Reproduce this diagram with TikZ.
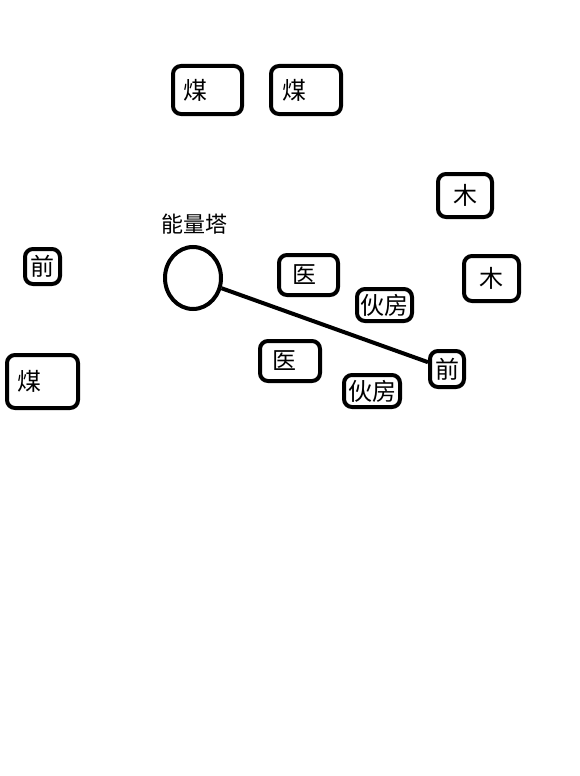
\documentclass[tikz,border=0pt]{standalone}
\usepackage{fontspec}
\setmainfont{Noto Sans CJK SC}
\usetikzlibrary{shapes.geometric}

\tikzset{
  Box/.style={draw,line width=4pt,rounded corners=8pt,inner sep=0pt,
    font=\fontsize{24}{28}\selectfont},
  LeftBox/.style={Box,align=left,inner xsep=#1},
  Tower/.style={draw,ellipse,line width=4pt,inner sep=0pt},
  Link/.style={line width=4pt}
}

\begin{document}
\begin{tikzpicture}[x=1pt,y=-1pt]
            \useasboundingbox (0,0) rectangle (580,776);
            % top coal
            \node[LeftBox=10pt,text width=49pt,minimum height=48] (coal_1) at (207.5,90){煤};
            \node[LeftBox=11pt,text width=48pt,minimum height=48] (coal_2) at (306,90){煤};
            % wood
            \node[Box,minimum width=54,minimum height=43] (wood_1) at (465,195.5){木};
            \node[Box,minimum width=55,minimum height=45] (wood_2) at (491.5,278.5){木};
            % left side
            \node[Box,minimum width=35,minimum height=35] (front_1) at (42.5,266.5){前};
            \node[LeftBox=10pt,text width=51pt,minimum height=53] (coal_3) at (42.5,381.5){煤};
            % tower
            \node[Tower,minimum width=56,minimum height=62] (tower) at (193,278){};
            \node[font=\fontsize{22}{26}\selectfont] (tower_lbl) at (194,224){能量塔};
            % middle
            \node[LeftBox=13pt,text width=33pt,minimum height=40] (med_1) at (308.5,275){医};
            \node[Box,minimum width=55,minimum height=32] (mess_1) at (384.5,305){伙房};
            \node[LeftBox=12pt,text width=36pt,minimum height=40] (med_2) at (290,361){医};
            \node[Box,minimum width=56,minimum height=32] (mess_2) at (372,391){伙房};
            \node[Box,minimum width=34,minimum height=36] (front_2) at (447,369){前};

            \draw[Link] (tower) -- (front_2);
\end{tikzpicture}
\end{document}
